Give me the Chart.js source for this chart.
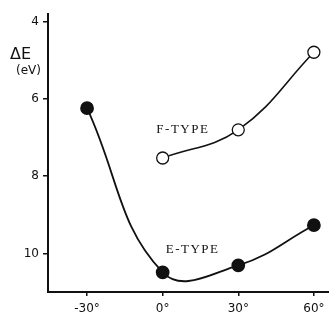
<!DOCTYPE html>
<html>
<head>
<meta charset="utf-8">
<script src="https://cdn.jsdelivr.net/npm/chart.js@4/dist/chart.umd.min.js"></script>
<style>
html,body{margin:0;padding:0;background:#fff;}
#wrap{width:329px;height:326px;position:relative;}
</style>
</head>
<body>
<div id="wrap"><canvas id="c" width="329" height="326"></canvas></div>
<script>
// Data
const eAngles = [-30, 0, 30, 60];
const eValues = [6.24, 10.49, 10.31, 9.27];
const fAngles = [0, 30, 60];
const fValues = [7.53, 6.8, 4.79];
const xTicks = [-30, 0, 30, 60];
const yTicks = [4, 6, 8, 10];
const xTickLabels = ['-30°', '0°', '30°', '60°'];
const seriesLabels = ['E-TYPE', 'F-TYPE'];

const toPts = (xs, ys) => xs.map((x, i) => ({x: x, y: ys[i]}));

const textPlugin = {
  id: 'texts',
  afterDraw(chart) {
    const ctx = chart.ctx;
    const xs = chart.scales.x, ys = chart.scales.y;
    ctx.save();
    ctx.fillStyle = '#111';
    ctx.textBaseline = 'middle';
    ctx.textAlign = 'left';
    ctx.font = '13px "Liberation Serif", serif';
    try { ctx.letterSpacing = '1.5px'; } catch (e) {}
    ctx.fillText(seriesLabels[1], xs.getPixelForValue(-2.5), ys.getPixelForValue(6.8));
    ctx.fillText(seriesLabels[0], xs.getPixelForValue(1.2), ys.getPixelForValue(9.9));
    try { ctx.letterSpacing = '0px'; } catch (e) {}
    ctx.font = '16px "DejaVu Sans", sans-serif';
    ctx.fillText('ΔE', 10, 55);
    ctx.font = '12px "DejaVu Sans", sans-serif';
    ctx.fillText('(eV)', 16, 71);
    ctx.restore();
  }
};

new Chart(document.getElementById('c'), {
  type: 'scatter',
  data: {
    datasets: [
      {
        label: seriesLabels[0],
        data: toPts(eAngles, eValues),
        showLine: true,
        borderColor: '#111',
        borderWidth: 1.8,
        backgroundColor: '#111',
        pointBackgroundColor: '#111',
        pointBorderColor: '#111',
        pointRadius: 6,
        pointHoverRadius: 6,
        tension: 0.42,
        clip: false
      },
      {
        label: seriesLabels[1],
        data: toPts(fAngles, fValues),
        showLine: true,
        borderColor: '#111',
        borderWidth: 1.6,
        pointBackgroundColor: '#fff',
        pointBorderColor: '#111',
        pointBorderWidth: 1.3,
        pointRadius: 6,
        pointHoverRadius: 6,
        tension: 0.4,
        clip: false
      }
    ]
  },
  options: {
    responsive: false,
    animation: false,
    layout: {autoPadding: false, padding: {top: 14, right: 0, left: 0, bottom: 0}},
    plugins: {legend: {display: false}, tooltip: {enabled: false}},
    scales: {
      x: {
        type: 'linear',
        min: -45.5,
        max: 66,
        afterBuildTicks(s) { s.ticks = xTicks.map(v => ({value: v})); },
        afterFit(s) { s.height = 34; s.paddingLeft = 0; s.paddingRight = 0; },
        border: {display: true, color: '#111', width: 2},
        grid: {display: true, drawOnChartArea: false, drawTicks: true, tickLength: 4, color: '#111', lineWidth: 1.5},
        ticks: {
          color: '#111',
          padding: 6,
          font: {family: '"DejaVu Sans", sans-serif', size: 12},
          callback: (v) => { const i = xTicks.indexOf(v); return i >= 0 ? xTickLabels[i] : ''; },
          maxRotation: 0,
          autoSkip: false
        }
      },
      y: {
        type: 'linear',
        reverse: true,
        min: 3.8,
        max: 11.0,
        afterBuildTicks(s) { s.ticks = yTicks.map(v => ({value: v})); },
        afterFit(s) { s.width = 48; s.paddingTop = 0; s.paddingBottom = 0; },
        border: {display: true, color: '#111', width: 2},
        grid: {display: true, drawOnChartArea: false, drawTicks: true, tickLength: 5, color: '#111', lineWidth: 1.5},
        ticks: {
          color: '#111',
          padding: 4,
          font: {family: '"DejaVu Sans", sans-serif', size: 12},
          autoSkip: false
        }
      }
    }
  },
  plugins: [textPlugin]
});
</script>
</body>
</html>
